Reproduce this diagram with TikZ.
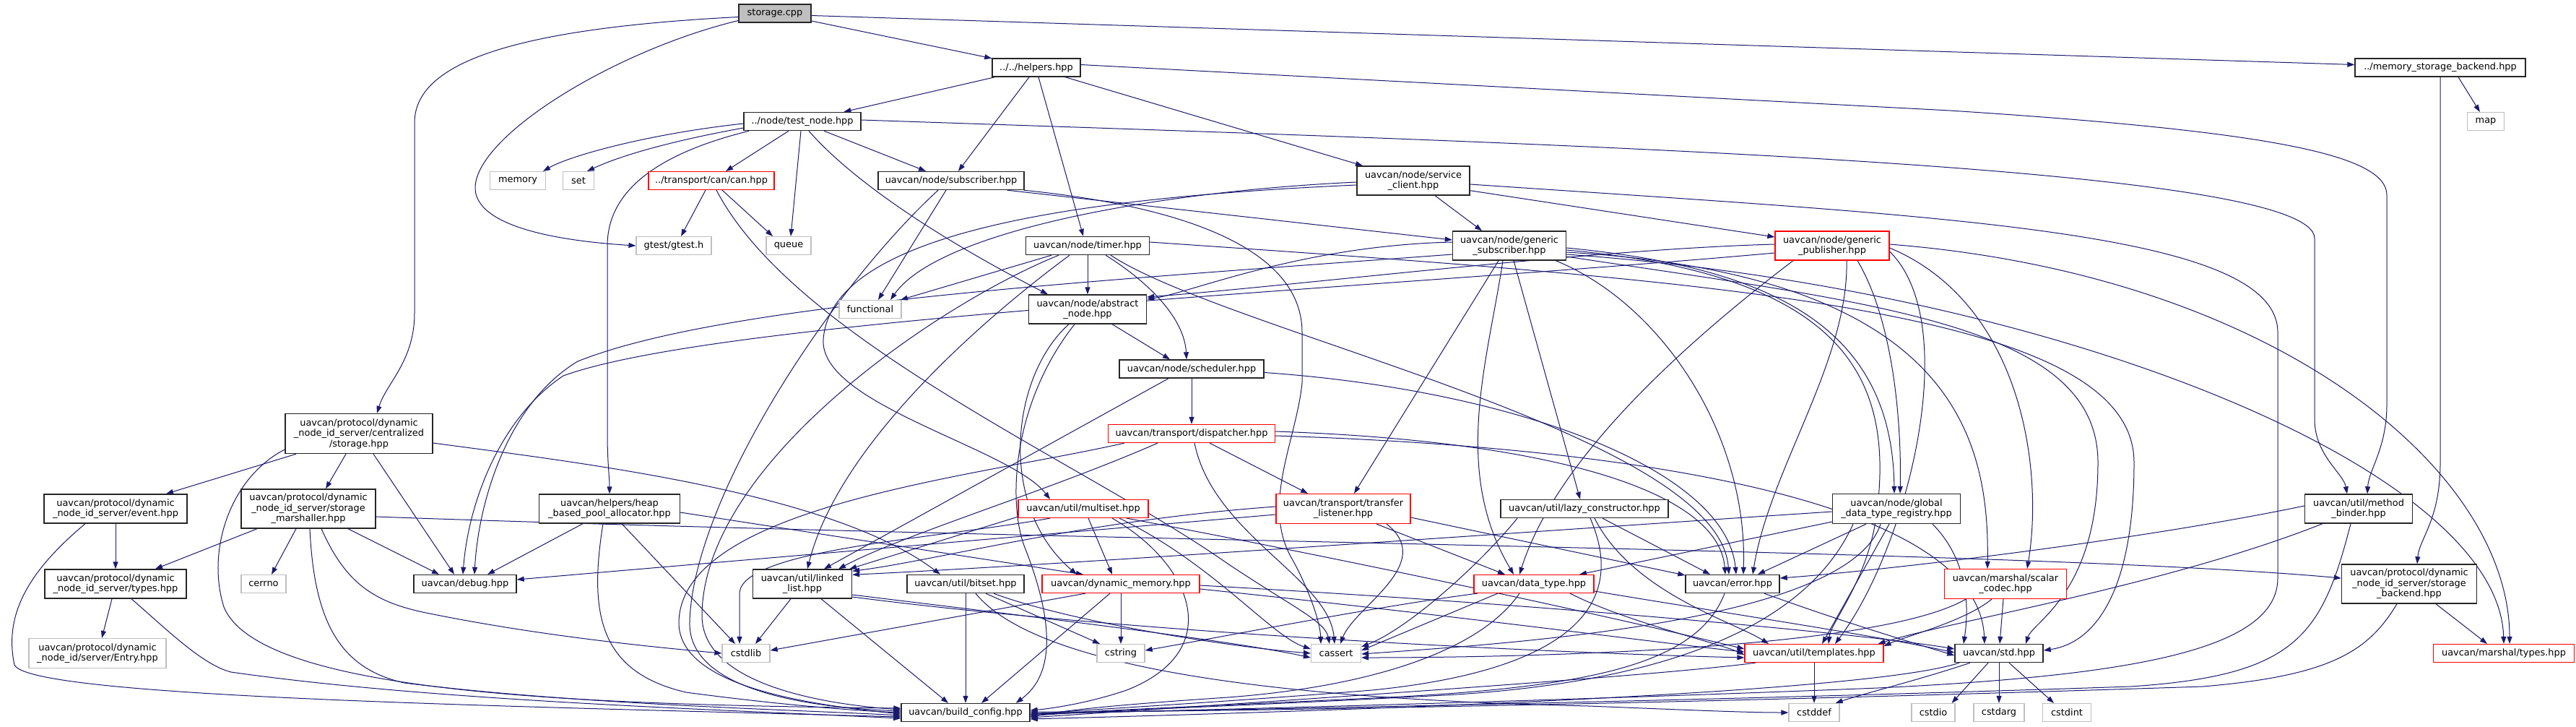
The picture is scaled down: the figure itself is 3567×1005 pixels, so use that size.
\documentclass[tikz,border=0pt]{standalone}
\usepackage{fontspec}
\newfontfamily\dx{DejaVu Sans}
\usetikzlibrary{arrows.meta}
\definecolor{edgec}{RGB}{25,25,112}
\definecolor{extgray}{RGB}{191,191,191}
\pgfdeclarelayer{bg}
\pgfsetlayers{bg,main}
\tikzset{
  nd/.style={draw=black!85, line width=1.4pt, fill=white, font=\dx\fontsize{12.9}{14.5}\selectfont, align=center, inner xsep=3pt, inner ysep=1pt, minimum height=25pt},
  rd/.style={nd, draw=red, line width=1.2pt},
  ex/.style={nd, draw=extgray, line width=1.2pt},
  rt/.style={nd, fill=extgray},
  dep/.style={draw=edgec, line width=1pt, -{Triangle[length=10pt,width=7pt]}},
}
\begin{document}
\begin{tikzpicture}[x=1pt,y=-1pt]
\useasboundingbox (0,0) rectangle (3567,1005);
% ---------- nodes ----------
\node[rt, minimum width=100pt] (root) at (1073,18.5) {storage.cpp};
\node[nd, minimum width=122pt] (helpers) at (1435,93.5) {../../helpers.hpp};
\node[nd, minimum width=236pt] (msb) at (3379,93.5) {../memory\_storage\_backend.hpp};
\node[ex, minimum width=51pt] (map) at (3442,168) {map};
\node[nd, minimum width=162pt] (tn) at (1111,168) {../node/test\_node.hpp};
\node[ex, minimum width=77pt] (memory) at (717,250) {memory};
\node[ex, minimum width=43pt] (set) at (801,250) {set};
\node[rd, minimum width=174pt] (can) at (985,250) {../transport/can/can.hpp};
\node[nd, minimum width=202pt] (sub) at (1317,250) {uavcan/node/subscriber.hpp};
\node[nd, minimum width=156pt, minimum height=40pt] (sc) at (1957,250) {uavcan/node/service\\\_client.hpp};
\node[ex, minimum width=104pt] (gtest) at (933,340) {gtest/gtest.h};
\node[ex, minimum width=62pt] (queue) at (1092,340) {queue};
\node[nd, minimum width=171pt] (timer) at (1506,340) {uavcan/node/timer.hpp};
\node[nd, minimum width=157pt, minimum height=40pt] (gsub) at (2090,340) {uavcan/node/generic\\\_subscriber.hpp};
\node[rd, minimum width=158pt, minimum height=40pt] (gpub) at (2537,340) {uavcan/node/generic\\\_publisher.hpp};
\node[ex, minimum width=86pt] (func) at (1205,428) {functional};
\node[nd, minimum width=163pt, minimum height=40pt] (abs) at (1506,428) {uavcan/node/abstract\\\_node.hpp};
\node[nd, minimum width=200pt] (sch) at (1650,510.5) {uavcan/node/scheduler.hpp};
\node[nd, minimum width=204pt, minimum height=55pt] (cs) at (497,600) {uavcan/protocol/dynamic\\\_node\_id\_server/centralized\\/storage.hpp};
\node[rd, minimum width=231pt] (disp) at (1650,600) {uavcan/transport/dispatcher.hpp};
\node[nd, minimum width=198pt, minimum height=40pt] (ev) at (160,704) {uavcan/protocol/dynamic\\\_node\_id\_server/event.hpp};
\node[nd, minimum width=186pt, minimum height=54pt] (mar) at (427,704) {uavcan/protocol/dynamic\\\_node\_id\_server/storage\\\_marshaller.hpp};
\node[nd, minimum width=195pt, minimum height=40pt] (heap) at (844,704) {uavcan/helpers/heap\\\_based\_pool\_allocator.hpp};
\node[rd, minimum width=180pt] (ms) at (1500,704) {uavcan/util/multiset.hpp};
\node[rd, minimum width=186pt, minimum height=41pt] (tl) at (1860,704) {uavcan/transport/transfer\\\_listener.hpp};
\node[nd, minimum width=232pt] (lazy) at (2194,704) {uavcan/util/lazy\_constructor.hpp};
\node[nd, minimum width=177pt, minimum height=41pt] (gdtr) at (2626,704) {uavcan/node/global\\\_data\_type\_registry.hpp};
\node[nd, minimum width=149pt, minimum height=40pt] (mb) at (3266,704) {uavcan/util/method\\\_binder.hpp};
\node[nd, minimum width=196pt, minimum height=40pt] (types) at (160,808) {uavcan/protocol/dynamic\\\_node\_id\_server/types.hpp};
\node[ex, minimum width=62pt] (cerrno) at (365,808) {cerrno};
\node[nd, minimum width=142pt] (debug) at (644,808) {uavcan/debug.hpp};
\node[nd, minimum width=137pt, minimum height=40pt] (ll) at (1111,808) {uavcan/util/linked\\\_list.hpp};
\node[nd, minimum width=162pt] (bs) at (1337,808) {uavcan/util/bitset.hpp};
\node[rd, minimum width=218pt] (dm) at (1552,808) {uavcan/dynamic\_memory.hpp};
\node[rd, minimum width=166pt] (dt) at (2124,808) {uavcan/data\_type.hpp};
\node[nd, minimum width=130pt] (err) at (2399,808) {uavcan/error.hpp};
\node[rd, minimum width=169pt, minimum height=41pt] (scal) at (2777,808) {uavcan/marshal/scalar\\\_codec.hpp};
\node[nd, minimum width=187pt, minimum height=54pt] (sb) at (3336,808) {uavcan/protocol/dynamic\\\_node\_id\_server/storage\\\_backend.hpp};
\node[ex, minimum width=190pt, minimum height=41pt] (entry) at (135,904) {uavcan/protocol/dynamic\\\_node\_id/server/Entry.hpp};
\node[ex, minimum width=66pt] (cstdlib) at (1033,904) {cstdlib};
\node[ex, minimum width=66pt] (cstring) at (1552,904) {cstring};
\node[ex, minimum width=69pt] (cassert) at (1850,904) {cassert};
\node[rd, minimum width=192pt] (tpl) at (2512,904) {uavcan/util/templates.hpp};
\node[nd, minimum width=122pt] (std) at (2768,904) {uavcan/std.hpp};
\node[rd, minimum width=195pt] (mtypes) at (3467,904) {uavcan/marshal/types.hpp};
\node[nd, minimum width=178pt] (bc) at (1337,986) {uavcan/build\_config.hpp};
\node[ex, minimum width=70pt] (cstddef) at (2512,986) {cstddef};
\node[ex, minimum width=60pt] (cstdio) at (2677,986) {cstdio};
\node[ex, minimum width=70pt] (cstdarg) at (2768,986) {cstdarg};
\node[ex, minimum width=67pt] (cstdint) at (2862,986) {cstdint};
% ---------- edges ----------
\begin{pgfonlayer}{bg}
\fill[white] (0,0) rectangle (3567,1005);
% storage.cpp
\draw[dep] (root) -- (helpers);
\draw[dep] ([yshift=-3]root.east) -- ([yshift=4]msb.west);
\draw[dep] ([yshift=-5]root.west) .. controls (700,40) and (574,90) .. (574,170) -- (574,433) .. controls (574,500) and (535,530) .. ([xshift=25]cs.north);
\draw[dep] ([yshift=-10]root.west) .. controls (850,70) and (655,190) .. (658,262) .. controls (662,320) and (800,335) .. (gtest.west);
% helpers
\draw[dep] (helpers) -- (tn);
\draw[dep] (helpers) -- (sub);
\draw[dep] ([xshift=3]helpers.south) -- ([xshift=-6]timer.north);
\draw[dep] ([xshift=40]helpers.south) -- ([xshift=-70]sc.north);
\draw[dep] ([yshift=4]helpers.east) -- (2700,153) .. controls (3150,182) and (3305,215) .. (3305,270) -- (3305,560) .. controls (3305,620) and (3280,650) .. ([xshift=12]mb.north);
% memory_storage_backend
\draw[dep] ([xshift=25]msb.south) -- (map);
\draw[dep] (msb.south) -- (3379,640) .. controls (3379,720) and (3350,745) .. ([xshift=11]sb.north);
% test_node
\draw[dep] ([yshift=-3]tn.west) .. controls (900,185) and (790,215) .. ([xshift=35]memory.north);
\draw[dep] ([yshift=-9]tn.west) .. controls (930,195) and (860,215) .. ([xshift=12]set.north);
\draw[dep] ([xshift=8]tn.south west) .. controls (900,215) and (841,270) .. (841,340) -- (841,600) .. controls (841,640) and (844,660) .. (heap.north);
\draw[dep] ([xshift=-19]tn.south) -- ([xshift=20]can.north);
\draw[dep] ([xshift=-2]tn.south) -- ([xshift=3]queue.north);
\draw[dep] ([xshift=30]tn.south) -- ([xshift=-35]sub.north);
\draw[dep] ([xshift=9]tn.south) .. controls (1180,250) and (1300,330) .. ([xshift=-55]abs.north);
\draw[dep] ([yshift=2]tn.east) .. controls (2200,200) and (3205,230) .. (3205,330) -- (3205,580) .. controls (3205,630) and (3245,655) .. ([xshift=-16]mb.north);
% can.hpp
\draw[dep] ([xshift=-8]can.south) -- ([xshift=10]gtest.north);
\draw[dep] ([xshift=15]can.south) -- ([xshift=-22]queue.north);
\draw[dep] ([xshift=7]can.south) .. controls (1100,470) and (1500,640) .. (1700,780) .. controls (1790,840) and (1835,860) .. ([xshift=-9]cassert.north);
% subscriber
\draw[dep] ([xshift=-24]sub.south east) -- ([yshift=8]gsub.west);
\draw[dep] ([xshift=-7]sub.south) -- ([xshift=11]func.north);
\draw[dep] ([xshift=-18]sub.south) .. controls (1150,400) and (960,690) .. (955,860) .. controls (952,950) and (1100,978) .. ([yshift=2]bc.west);
\draw[dep] ([xshift=-1]sub.south east) .. controls (1680,290) and (1803,360) .. (1803,460) -- (1803,530) .. controls (1795,610) and (1745,700) .. (1790,775) .. controls (1812,815) and (1828,860) .. ([xshift=-21]cassert.north);
% service_client
\draw[dep] ([xshift=30]sc.south) -- ([xshift=-38]gsub.north);
\draw[dep] ([yshift=7]sc.south east) -- ([yshift=12]gpub.west);
\draw[dep] ([yshift=-5]sc.east) .. controls (2700,300) and (3154,320) .. (3154,460) -- (3154,800) .. controls (3154,900) and (2950,935) .. (2600,952) .. controls (2100,972) and (1600,984) .. ([yshift=-2]bc.east);
\draw[dep] ([yshift=-2]sc.west) .. controls (1600,265) and (1300,320) .. ([xshift=28]func.north);
\draw[dep] ([yshift=-6]sc.west) .. controls (1450,275) and (1150,330) .. (1140,470) .. controls (1135,560) and (1400,620) .. ([xshift=-46]ms.north);
% timer
\draw[dep] ([xshift=-50]timer.south) -- ([xshift=42]func.north);
\draw[dep] (timer) -- (abs);
\draw[dep] ([xshift=25]timer.south) .. controls (1590,390) and (1640,440) .. ([xshift=-7]sch.north);
\draw[dep] ([xshift=-25]timer.south) .. controls (1350,450) and (1160,620) .. ([xshift=7]ll.north);
\draw[dep] ([xshift=-40]timer.south) .. controls (1300,420) and (975,640) .. (972,850) .. controls (970,950) and (1150,975) .. ([yshift=4]bc.west);
\draw[dep] ([yshift=5]timer.east) .. controls (2400,390) and (2955,430) .. (2955,640) .. controls (2955,820) and (2900,890) .. ([yshift=4]std.east);
\draw[dep] ([xshift=32]timer.south) .. controls (1700,460) and (2380,600) .. ([xshift=-5]err.north);
% generic_subscriber
\draw[dep] ([yshift=5]gsub.west) .. controls (1800,340) and (1650,405) .. ([yshift=14]abs.east);
\draw[dep] ([xshift=-15]gsub.south) -- ([xshift=15]tl.north);
\draw[dep] ([xshift=-9]gsub.south) .. controls (2060,500) and (2010,650) .. ([xshift=-28]dt.north);
\draw[dep] ([xshift=6]gsub.south) -- ([xshift=-6]lazy.north);
\draw[dep] ([xshift=-15]gsub.south east) .. controls (2300,420) and (2420,600) .. ([xshift=15]err.north);
\draw[dep] ([yshift=-3]gsub.east) .. controls (2450,370) and (2620,450) .. ([xshift=-3]gdtr.north);
\draw[dep] ([yshift=-6]gsub.east) .. controls (2550,380) and (2620,520) .. (2600,700) .. controls (2590,800) and (2535,860) .. ([xshift=20]tpl.north);
\draw[dep] ([yshift=-9]gsub.east) .. controls (2700,380) and (2755,600) .. ([xshift=-25]scal.north);
\draw[dep] ([yshift=-12]gsub.east) .. controls (2850,400) and (3460,650) .. (mtypes.north);
\draw[dep] ([yshift=-15]gsub.east) .. controls (2600,420) and (2905,450) .. (2905,640) .. controls (2905,820) and (2815,860) .. ([xshift=37]std.north);
\draw[dep] ([yshift=-12]gsub.west) .. controls (1500,390) and (1000,420) .. (800,500) .. controls (700,560) and (662,700) .. ([xshift=13]debug.north);
% generic_publisher
\draw[dep] ([yshift=2]gpub.west) .. controls (2200,345) and (1800,395) .. ([yshift=17]abs.east);
\draw[dep] ([yshift=-10]gpub.west) .. controls (1900,400) and (1000,440) .. (780,520) .. controls (690,580) and (648,700) .. ([xshift=-3]debug.north);
\draw[dep] ([xshift=-54]gpub.south) .. controls (2300,500) and (2150,650) .. ([xshift=-20]dt.north);
\draw[dep] ([xshift=20]gpub.south) .. controls (2560,500) and (2450,650) .. ([xshift=28]err.north);
\draw[dep] ([xshift=35]gpub.south) .. controls (2625,450) and (2633,600) .. ([xshift=5]gdtr.north);
\draw[dep] ([yshift=-8]gpub.east) .. controls (2720,450) and (2640,760) .. ([xshift=29]tpl.north);
\draw[dep] ([yshift=-3]gpub.east) .. controls (2800,420) and (2830,650) .. ([xshift=30]scal.north);
\draw[dep] ([yshift=2]gpub.east) .. controls (3150,380) and (3475,650) .. ([xshift=8]mtypes.north);
% abstract_node
\draw[dep] ([xshift=34]abs.south) -- ([xshift=-30]sch.north);
\draw[dep] ([xshift=-26]abs.south) .. controls (1400,520) and (1380,700) .. ([xshift=-61]dm.north);
\draw[dep] ([xshift=-18]abs.south) .. controls (1400,560) and (1395,700) .. (1420,760) .. controls (1455,850) and (1465,930) .. ([xshift=-20]bc.north east);
% scheduler
\draw[dep] (sch) -- (disp);
\draw[dep] ([xshift=-32]sch.south) -- ([xshift=30]ll.north);
\draw[dep] ([yshift=-5]sch.east) .. controls (2100,540) and (2390,650) .. ([xshift=5]err.north);
% dispatcher
\draw[dep] ([xshift=25]disp.south) -- ([xshift=-49]tl.north);
\draw[dep] ([xshift=-47]disp.south) .. controls (1450,680) and (1250,740) .. ([xshift=50]ll.north);
\draw[dep] ([xshift=4]disp.south) .. controls (1680,740) and (1840,800) .. ([xshift=-2]cassert.north);
\draw[dep] ([xshift=-93]disp.south) .. controls (1350,660) and (945,700) .. (940,860) .. controls (938,950) and (1120,975) .. ([yshift=-2]bc.west);
\draw[dep] ([yshift=3]disp.east) .. controls (2150,610) and (2380,680) .. ([xshift=-10]err.north);
\draw[dep] ([yshift=-3]disp.east) .. controls (2300,620) and (2740,700) .. ([xshift=-20]std.north);
% centralized storage
\draw[dep] ([xshift=-87]cs.south) -- ([xshift=70]ev.north);
\draw[dep] ([xshift=-18]cs.south) -- ([xshift=24]mar.north);
\draw[dep] ([xshift=20]cs.south) -- ([xshift=-15]debug.north);
\draw[dep] ([yshift=-13]cs.east) .. controls (800,640) and (1150,680) .. ([xshift=-35]bs.north);
\draw[dep] ([yshift=-22]cs.west) .. controls (320,660) and (285,760) .. (310,840) .. controls (360,960) and (800,975) .. ([yshift=6]bc.west);
% event
\draw[dep] (ev) -- (types);
\draw[dep] ([xshift=-42]ev.south) .. controls (40,790) and (5,850) .. (20,920) .. controls (40,965) and (700,977) .. ([yshift=-6]bc.west);
% types
\draw[dep] ([xshift=-5]types.south) -- ([xshift=6]entry.north);
\draw[dep] ([xshift=22]types.south) .. controls (230,870) and (280,920) .. (320,930) .. controls (600,970) and (1000,982) .. ([yshift=-8]bc.west);
% marshaller
\draw[dep] ([xshift=-71]mar.south) -- ([xshift=55]types.north);
\draw[dep] ([xshift=-17]mar.south) -- ([xshift=11]cerrno.north);
\draw[dep] ([xshift=55]mar.south) -- ([xshift=-36]debug.north);
\draw[dep] ([xshift=2]mar.south) .. controls (435,860) and (470,925) .. (560,945) .. controls (800,975) and (1100,982) .. ([yshift=-4]bc.west);
\draw[dep] ([xshift=18]mar.south) .. controls (480,810) and (520,835) .. (600,850) .. controls (750,880) and (900,895) .. (cstdlib.west);
\draw[dep] ([yshift=-11]mar.east) .. controls (1500,750) and (2800,760) .. ([yshift=8]sb.west);
% heap allocator
\draw[dep] ([xshift=-37]heap.south) -- ([xshift=31]debug.north);
\draw[dep] ([xshift=-9]heap.south) .. controls (815,850) and (830,930) .. (950,958) .. controls (1100,978) and (1200,984) .. (bc.west);
\draw[dep] ([xshift=17]heap.south) -- ([xshift=-15]cstdlib.north);
\draw[dep] ([yshift=-5]heap.east) -- ([xshift=-52]dm.north);
% multiset
\draw[dep] ([yshift=2]ms.south west) -- ([xshift=-4]ll.north east);
\draw[dep] ([xshift=-46]ms.south) .. controls (1300,745) and (1030,760) .. (1024,820) -- ([xshift=-9]cstdlib.north);
\draw[dep] ([xshift=7]ms.south) -- ([xshift=-12]dm.north);
\draw[dep] ([xshift=40]ms.south) .. controls (1650,780) and (1700,900) .. (1560,955) .. controls (1510,972) and (1460,980) .. ([yshift=3]bc.east);
\draw[dep] ([xshift=50]ms.south) .. controls (1680,780) and (1760,880) .. ([yshift=6]cassert.west);
\draw[dep] ([xshift=60]ms.south) .. controls (1950,790) and (2300,870) .. ([yshift=6]tpl.west);
% transfer_listener
\draw[dep] ([yshift=3]tl.west) .. controls (1500,720) and (1300,775) .. ([yshift=-3]ll.north east);
\draw[dep] ([yshift=-8]tl.west) -- ([yshift=6]debug.east);
\draw[dep] ([xshift=60]tl.south) .. controls (1990,780) and (1875,840) .. ([xshift=6]cassert.north);
\draw[dep] ([xshift=46]tl.south) -- ([xshift=-40]dt.north);
\draw[dep] ([yshift=-12]tl.east) -- ([yshift=12]err.west);
% lazy_constructor
\draw[dep] ([xshift=25]lazy.south) -- ([xshift=-31]err.north);
\draw[dep] ([xshift=14]lazy.south) .. controls (2260,820) and (2400,860) .. ([xshift=-63]tpl.north);
\draw[dep] ([xshift=8]lazy.south) .. controls (2260,850) and (2150,930) .. (1900,955) .. controls (1650,975) and (1480,983) .. ([yshift=-3]bc.east);
\draw[dep] ([xshift=-93]lazy.south) .. controls (2050,780) and (1950,870) .. ([yshift=9]cassert.east);
% global_data_type_registry
\draw[dep] ([yshift=-4]gdtr.west) .. controls (2200,730) and (1500,780) .. ([yshift=-8]ll.north east);
\draw[dep] ([yshift=-18]gdtr.west) -- ([xshift=63]dt.north);
\draw[dep] ([xshift=-42]gdtr.south) -- ([xshift=35]err.north);
\draw[dep] ([xshift=-22]gdtr.south) .. controls (2560,860) and (2100,890) .. ([yshift=-1]cassert.east);
\draw[dep] ([xshift=-10]gdtr.south) -- ([xshift=11]tpl.north);
\draw[dep] ([xshift=50]gdtr.south) .. controls (2730,780) and (2725,850) .. ([xshift=-49]std.north);
\draw[dep] ([xshift=-60]gdtr.south) .. controls (2500,870) and (2300,945) .. (2000,962) .. controls (1700,978) and (1500,984) .. ([yshift=-5]bc.east);
% method_binder
\draw[dep] ([yshift=4]mb.west) .. controls (2950,750) and (2600,790) .. ([yshift=8]err.east);
\draw[dep] ([xshift=-50]mb.south) .. controls (3000,810) and (2700,860) .. ([xshift=-8]tpl.north east);
\draw[dep] ([xshift=-11]mb.south) .. controls (3215,880) and (3180,935) .. (2950,950) .. controls (2300,972) and (1600,984) .. ([yshift=-1]bc.east);
% storage_backend
\draw[dep] ([xshift=-17]sb.south) .. controls (3280,900) and (3230,935) .. (3050,950) .. controls (2300,975) and (1600,986) .. ([yshift=1]bc.east);
\draw[dep] ([xshift=37]sb.south) -- ([xshift=-23]mtypes.north);
% linked_list
\draw[dep] ([xshift=-16]ll.south) -- ([xshift=13]cstdlib.north);
\draw[dep] ([xshift=26]ll.south) -- ([xshift=-24]bc.north);
\draw[dep] ([yshift=-15]ll.east) .. controls (1400,850) and (1700,885) .. ([yshift=-6]cassert.west);
\draw[dep] ([yshift=-18]ll.east) .. controls (1600,880) and (2200,905) .. ([yshift=-6]tpl.west);
% bitset
\draw[dep] (bs.south) -- (bc.north);
\draw[dep] ([xshift=28]bs.south) -- ([xshift=-29]cstring.north);
\draw[dep] ([xshift=39]bs.south) .. controls (1480,860) and (1700,895) .. (cassert.west);
\draw[dep] ([xshift=14]bs.south) .. controls (1440,930) and (1800,968) .. (2200,977) .. controls (2350,983) and (2420,986) .. (cstddef.west);
% dynamic_memory
\draw[dep] ([xshift=-49]dm.south) -- ([yshift=4]cstdlib.east);
\draw[dep] (dm.south) -- (cstring.north);
\draw[dep] ([xshift=-15]dm.south) -- ([xshift=22]bc.north);
\draw[dep] ([yshift=-2]dm.east) .. controls (2200,840) and (2600,880) .. ([yshift=6]std.west);
\draw[dep] ([yshift=-7]dm.east) .. controls (2000,850) and (2300,890) .. ([yshift=2]tpl.west);
% data_type
\draw[dep] ([xshift=-50]dt.south) -- ([yshift=4]cassert.east);
\draw[dep] ([xshift=-20]dt.south) .. controls (2050,900) and (1900,950) .. (1700,965) .. controls (1550,975) and (1480,982) .. ([yshift=-6]bc.east);
\draw[dep] ([xshift=-78]dt.south) .. controls (1900,840) and (1700,880) .. ([yshift=4]cstring.east);
\draw[dep] ([yshift=-10]dt.east) .. controls (2400,850) and (2600,880) .. ([yshift=1]std.west);
\draw[dep] ([xshift=50]dt.south) .. controls (2250,860) and (2380,890) .. ([yshift=-2]tpl.west);
% error
\draw[dep] ([xshift=-11]err.south) .. controls (2350,920) and (2200,952) .. (1900,966) .. controls (1650,978) and (1500,984) .. ([yshift=-4]bc.east);
\draw[dep] ([xshift=44]err.south) .. controls (2550,860) and (2650,890) .. ([yshift=-3]std.west);
% templates
\draw[dep] (tpl.south) -- (cstddef.north);
\draw[dep] ([xshift=-81]tpl.south) .. controls (2300,935) and (1800,968) .. ([yshift=-7]bc.east);
% std
\draw[dep] ([xshift=-15]std.south) -- ([xshift=-5]cstdio.north east);
\draw[dep] (std.south) -- (cstdarg.north);
\draw[dep] ([xshift=14]std.south) -- ([xshift=-18]cstdint.north);
\draw[dep] ([xshift=-40]std.south) .. controls (2660,940) and (2580,960) .. ([xshift=-6]cstddef.north east);
\draw[dep] ([xshift=-55]std.south) .. controls (2600,955) and (2000,980) .. ([yshift=-9]bc.east);
% scalar_codec
\draw[dep] ([xshift=-55]scal.south) .. controls (2600,900) and (2100,910) .. ([yshift=-6]cassert.east);
\draw[dep] ([xshift=-19]scal.south) .. controls (2720,860) and (2640,880) .. ([yshift=10]tpl.east);
\draw[dep] ([xshift=-3]scal.south) -- ([xshift=1]std.north);
\end{pgfonlayer}
\end{tikzpicture}
\end{document}
